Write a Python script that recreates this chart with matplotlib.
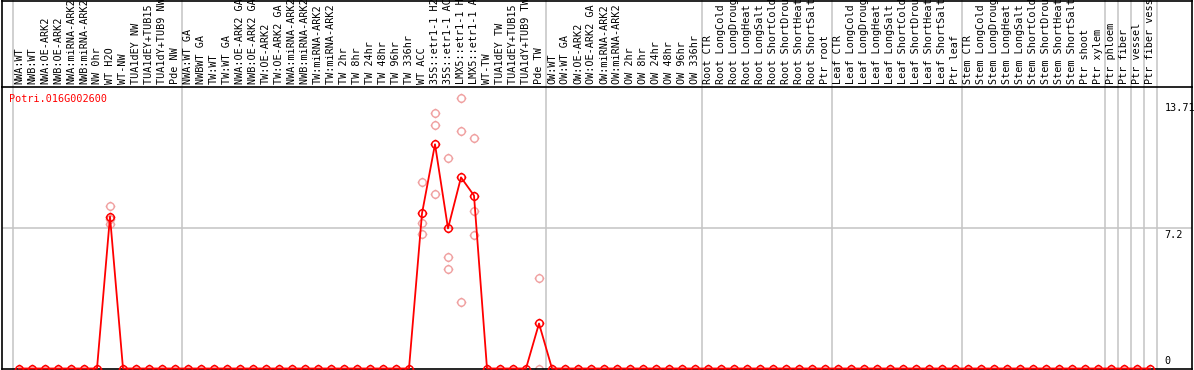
import matplotlib
matplotlib.use("Agg")
import numpy as np
import matplotlib.pyplot as plt
from matplotlib.path import Path
from matplotlib.lines import Line2D

# sample labels, one per column
labels = [
    "NWA:WT", "NWB:WT", "NWA:OE-ARK2", "NWB:OE-ARK2", "NWA:miRNA-ARK2",
    "NWB:miRNA-ARK2", "NW 0hr", "WT H2O", "WT-NW", "TUA1dEY NW",
    "TUA1dEY+TUB15 NW", "TUA1dY+TUB9 NW", "Pde NW",
    "NWA:WT GA", "NWBWT GA", "TW:WT", "TW:WT GA", "NWA:OE-ARK2 GA",
    "NWB:OE-ARK2 GA", "TW:OE-ARK2", "TW:OE-ARK2 GA", "NWA:miRNA-ARK2 GA",
    "NWB:miRNA-ARK2 GA", "TW:miRNA-ARK2", "TW:miRNA-ARK2 GA", "TW 2hr",
    "TW 8hr", "TW 24hr", "TW 48hr", "TW 96hr", "TW 336hr", "WT ACC",
    "35S::etr1-1 H2O", "35S::etr1-1 ACC", "LMX5::etr1-1 H2O",
    "LMX5::etr1-1 ACC", "WT-TW", "TUA1dEY TW", "TUA1dEY+TUB15 TW",
    "TUA1dY+TUB9 TW", "Pde TW",
    "OW:WT", "OW:WT GA", "OW:OE-ARK2", "OW:OE-ARK2 GA", "OW:miRNA-ARK2",
    "OW:miRNA-ARK2 GA", "OW 2hr", "OW 8hr", "OW 24hr", "OW 48hr", "OW 96hr",
    "OW 336hr",
    "Root CTR", "Root LongCold", "Root LongDrought", "Root LongHeat",
    "Root LongSalt", "Root ShortCold", "Root ShortDrought", "Root ShortHeat",
    "Root ShortSalt", "Ptr root",
    "Leaf CTR", "Leaf LongCold", "Leaf LongDrought", "Leaf LongHeat",
    "Leaf LongSalt", "Leaf ShortCold", "Leaf ShortDrought", "Leaf ShortHeat",
    "Leaf ShortSalt", "Ptr leaf",
    "Stem CTR", "Stem LongCold", "Stem LongDrought", "Stem LongHeat",
    "Stem LongSalt", "Stem ShortCold", "Stem ShortDrought", "Stem ShortHeat",
    "Stem ShortSalt", "Ptr shoot", "Ptr xylem",
    "Ptr phloem", "Ptr fiber", "Ptr vessel", "Ptr fiber vessel",
]

# mean expression per sample (all others are 0)
means = [0.0] * len(labels)
nonzero_idx = [7, 31, 32, 33, 34, 35, 40]
nonzero_mean = [7.80, 7.96, 11.51, 7.19, 9.81, 8.88, 2.31]
for i, v in zip(nonzero_idx, nonzero_mean):
    means[i] = v

# individual replicates (light points)
rep_idx = [7, 7, 7, 31, 31, 31, 32, 32, 32, 33, 33, 33,
           34, 34, 34, 35, 35, 35, 40, 40]
rep_vals = [8.33, 7.42, 7.66, 9.57, 7.49, 6.88, 13.10, 12.48, 8.94,
            10.79, 5.71, 5.13, 13.87, 12.18, 3.43, 11.82, 8.06, 6.83,
            4.67, 0.0]

# group separators
separators = [-0.5, 12.5, 40.5, 52.5, 62.5, 72.5, 83.5, 84.5, 85.5, 86.5, 87.5]
ytick_vals = [13.71, 7.2, 0]
ytick_text = ["13.71", "7.2", "0"]
gene = "Potri.016G002600"

W, H = 1194, 370
fig = plt.figure(figsize=(W / 100, H / 100), dpi=100)
fig.patch.set_facecolor("white")

# plot area in pixels: x 2..1192, y 87..368.5
left, right, top, bottom = 2, 1192, 87, 368.5
ax = fig.add_axes([left / W, (H - bottom) / H, (right - left) / W, (bottom - top) / H])
x0, step = 19, 13.0
ax.set_xlim((left - x0) / step, (right - x0) / step)
ax.set_ylim(0, 14.45)
ax.set_xticks([])
ax.set_yticks([])
for s in ax.spines.values():
    s.set_color("black")
    s.set_linewidth(1.2)

mono = "DejaVu Sans Mono"
grid_c = "#c4c4c4"
ext = bottom / (bottom - top)  # reach to the top of the figure

for xs in separators:
    ax.axvline(xs, ymin=0, ymax=ext, color=grid_c, lw=1.1, clip_on=False, zorder=1)
ax.axhline(7.2, color=grid_c, lw=1.1, zorder=1)

# ring marker (polygon) with four short ticks
ang = np.linspace(0, 2 * np.pi, 25)
ring = [(np.cos(a), np.sin(a)) for a in ang]
verts = ring + [(1, 0), (1.3, 0), (-1, 0), (-1.3, 0), (0, 1), (0, 1.3), (0, -1), (0, -1.3)]
codes = [Path.MOVETO] + [Path.LINETO] * 24 + [Path.MOVETO, Path.LINETO] * 4
marker = Path(verts, codes)

xs = list(range(len(labels)))
ax.plot(rep_idx, rep_vals, linestyle="none", marker=marker, markersize=7,
        markerfacecolor="none", markeredgecolor="#f0a0a0", markeredgewidth=1.0,
        clip_on=False, zorder=2)
ax.plot(xs, means, color="#ff0000", lw=1.3, marker=marker, markersize=7,
        markerfacecolor="none", markeredgecolor="#ff0000", markeredgewidth=1.1,
        clip_on=False, zorder=3)

# rotated sample labels in the header
for i, lab in enumerate(labels):
    ax.annotate(lab, xy=(i, 1), xycoords=("data", "axes fraction"),
                xytext=(0, 2.5), textcoords="offset points",
                rotation=90, ha="center", va="bottom",
                fontsize=7.3, family=mono, color="black", annotation_clip=False)

# value labels on the right
for v, t in zip(ytick_vals, ytick_text):
    if v == 0:
        ax.annotate(t, xy=(88.1, v), xytext=(0, 2), textcoords="offset points",
                    ha="left", va="bottom", fontsize=7.3, family=mono)
    else:
        ax.annotate(t, xy=(88.1, v), xytext=(0, -1.5), textcoords="offset points",
                    ha="left", va="top", fontsize=7.3, family=mono)

ax.text(-0.8, 13.85, gene, color="#ff0000", fontsize=7.3, family=mono,
        ha="left", va="center")

# outer frame around the header
fx = lambda p: p / W
fy = lambda p: 1 - p / H
for (xa, ya, xb, yb) in [(left, 0.5, right, 0.5), (left, 0, left, top), (right, 0, right, top)]:
    fig.add_artist(Line2D([fx(xa), fx(xb)], [fy(ya), fy(yb)], color="black", lw=1.2))

fig.savefig("out.png", dpi=100)
